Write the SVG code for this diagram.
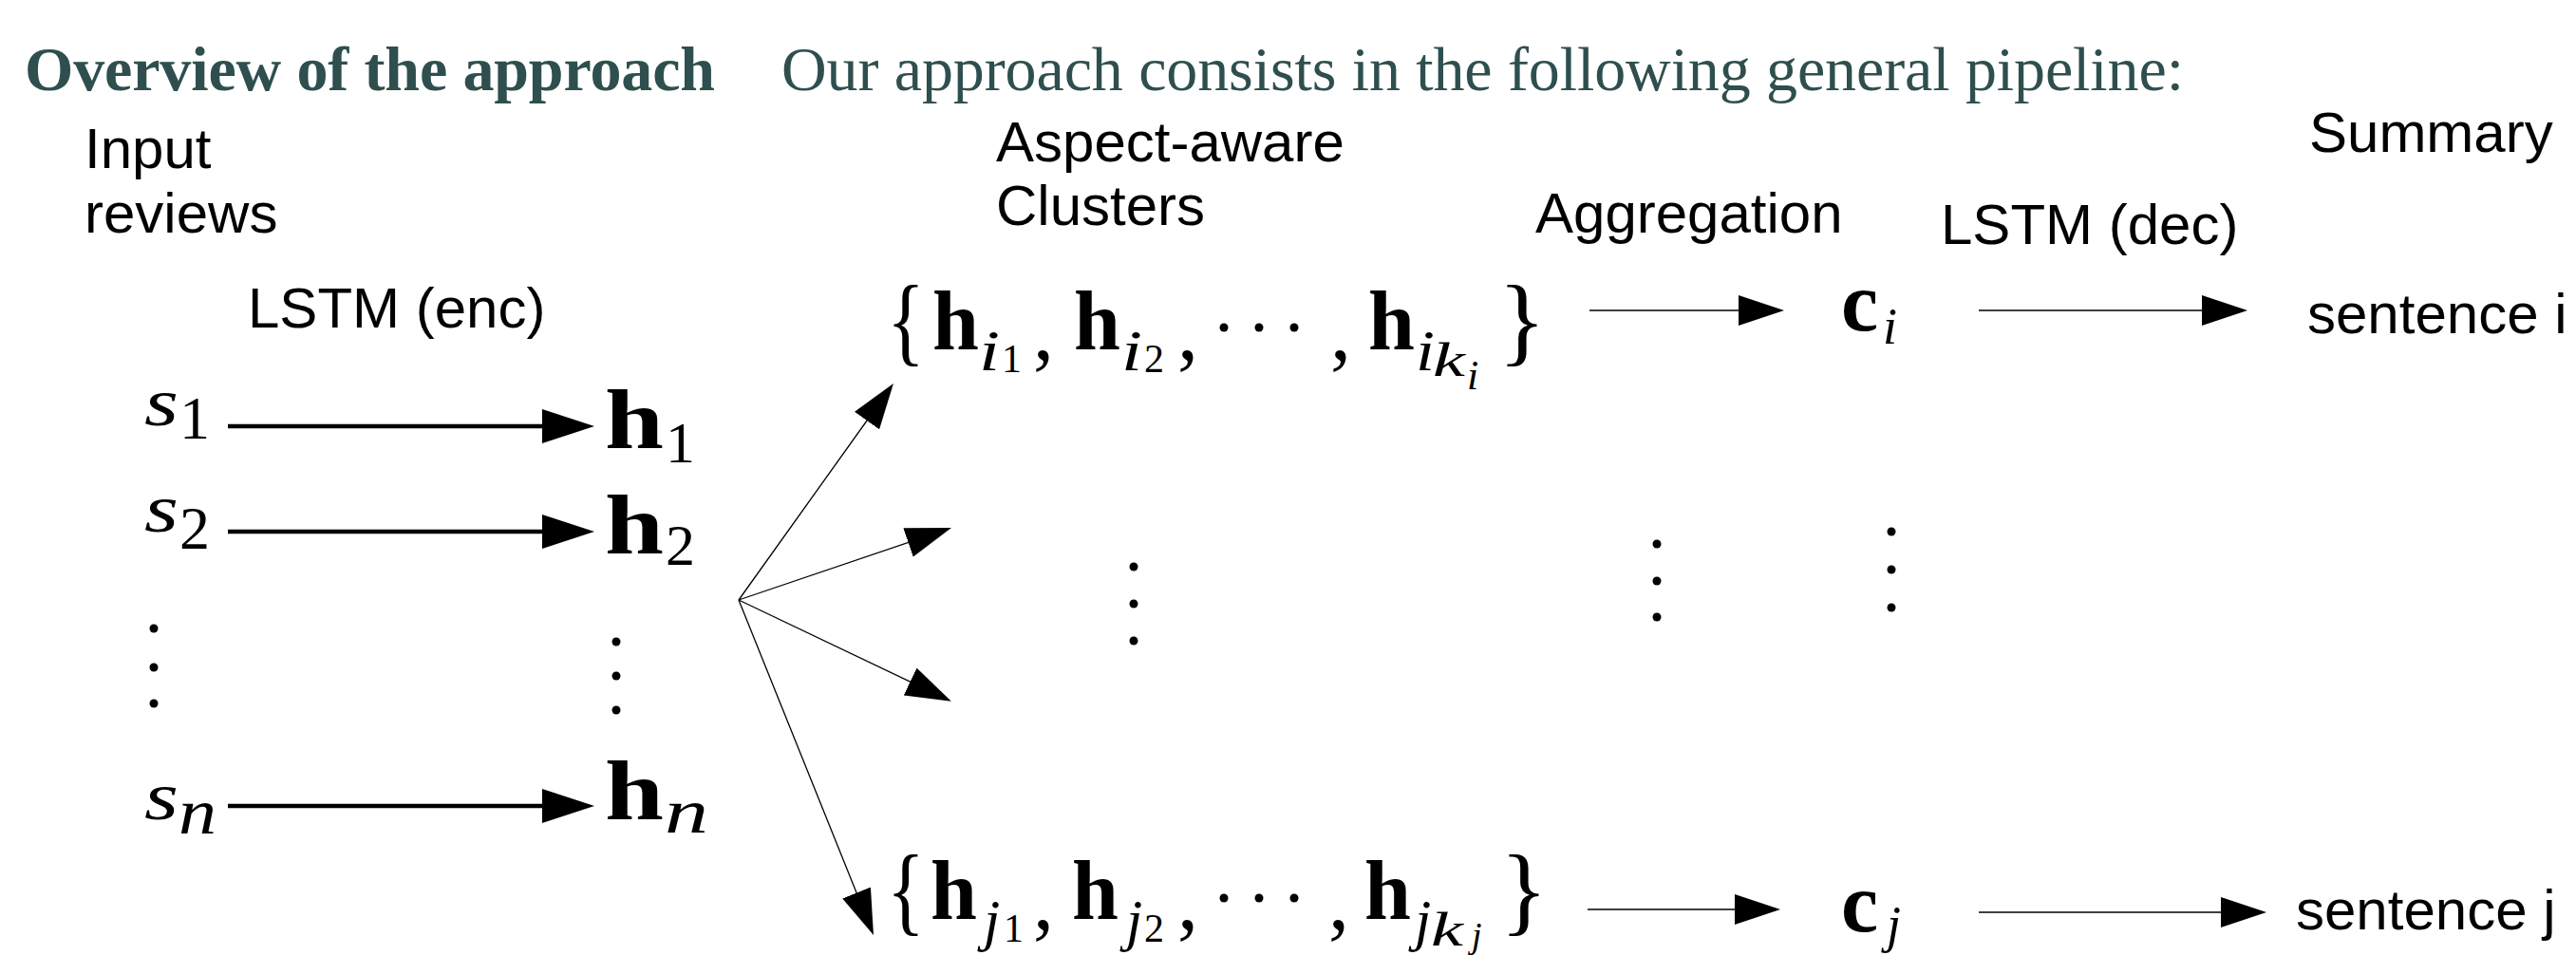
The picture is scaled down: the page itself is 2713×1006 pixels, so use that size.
<svg xmlns="http://www.w3.org/2000/svg" width="2713" height="1006" viewBox="0 0 2713 1006">
<style>
.ttl{font-family:"Liberation Serif",serif;font-size:66px;fill:#2F4F4F}
.lbl{font-family:"Liberation Sans",Arial,sans-serif;font-size:60px;fill:#000}
.mb{font-family:"Liberation Serif",serif;font-weight:bold;font-size:88px;fill:#000}
.mi{font-family:"Liberation Serif",serif;font-style:italic;fill:#000}
.rm{font-family:"Liberation Serif",serif;fill:#000}
.thick{stroke:#000;stroke-width:4.5;fill:none;marker-end:url(#headL)}
.thin{stroke:#000;stroke-width:1.3;fill:none;marker-end:url(#headS)}
.dot{fill:#000}
</style>
<defs>
<marker id="headL" viewBox="0 0 55 36" refX="45" refY="18" markerWidth="55" markerHeight="36" markerUnits="userSpaceOnUse" orient="auto"><path d="M0,0 L55,18 L0,36 z" fill="#000"/></marker>
<marker id="headS" viewBox="0 0 48 32" refX="40" refY="16" markerWidth="48" markerHeight="32" markerUnits="userSpaceOnUse" orient="auto"><path d="M0,0 L48,16 L0,32 z" fill="#000"/></marker>
</defs>
<rect width="2713" height="1006" fill="#fff"/>

<g id="title">
<text class="ttl" x="26" y="95" font-weight="bold" textLength="727">Overview of the approach</text>
<text class="ttl" x="823" y="95" textLength="1477">Our approach consists in the following general pipeline:</text>
</g>

<g id="headers">
<text class="lbl" x="89" y="177">Input</text>
<text class="lbl" x="89" y="245">reviews</text>
<text class="lbl" x="261" y="345">LSTM (enc)</text>
<text class="lbl" x="1049" y="170">Aspect-aware</text>
<text class="lbl" x="1049" y="237">Clusters</text>
<text class="lbl" x="1617" y="245">Aggregation</text>
<text class="lbl" x="2044" y="257">LSTM (dec)</text>
<text class="lbl" x="2432" y="160">Summary</text>
</g>

<g id="s1"><text class="mi" x="152" y="448" font-size="72" textLength="36" lengthAdjust="spacingAndGlyphs">s</text><text class="rm" x="189" y="462" font-size="64">1</text></g>
<g id="s2"><text class="mi" x="152" y="560" font-size="72" textLength="36" lengthAdjust="spacingAndGlyphs">s</text><text class="rm" x="189" y="578" font-size="64">2</text></g>
<g id="sn"><text class="mi" x="152" y="863" font-size="72" textLength="36" lengthAdjust="spacingAndGlyphs">s</text><text class="mi" x="188" y="878" font-size="68" textLength="40" lengthAdjust="spacingAndGlyphs">n</text></g>
<g id="sdots"><circle class="dot" cx="162" cy="662" r="4.5"/><circle class="dot" cx="162" cy="703" r="4.5"/><circle class="dot" cx="162" cy="741" r="4.5"/></g>

<g id="h1"><text class="mb" x="637" y="472" textLength="62" lengthAdjust="spacingAndGlyphs">h</text><text class="rm" x="701" y="487" font-size="62">1</text></g>
<g id="h2"><text class="mb" x="637" y="583" textLength="62" lengthAdjust="spacingAndGlyphs">h</text><text class="rm" x="701" y="595" font-size="62">2</text></g>
<g id="hn"><text class="mb" x="637" y="863" textLength="62" lengthAdjust="spacingAndGlyphs">h</text><text class="mi" x="700" y="877" font-size="66" textLength="46" lengthAdjust="spacingAndGlyphs">n</text></g>
<g id="hdots"><circle class="dot" cx="649" cy="676" r="4.5"/><circle class="dot" cx="649" cy="712" r="4.5"/><circle class="dot" cx="649" cy="748" r="4.5"/></g>

<g id="cluster_i">
<text class="rm" x="934" y="372" font-size="104" textLength="40" lengthAdjust="spacingAndGlyphs">{</text>
<text class="mb" x="982" y="368">h</text>
<text class="mi" x="1031" y="390" font-size="62" textLength="22" lengthAdjust="spacingAndGlyphs">i</text>
<text class="rm" x="1055" y="392" font-size="42">1</text>
<text class="rm" x="1088" y="378" font-size="88">,</text>
<text class="mb" x="1131" y="368">h</text>
<text class="mi" x="1181" y="390" font-size="62" textLength="22" lengthAdjust="spacingAndGlyphs">i</text>
<text class="rm" x="1205" y="392" font-size="42">2</text>
<text class="rm" x="1240" y="378" font-size="88">,</text>
<circle class="dot" cx="1289" cy="345" r="4.5"/><circle class="dot" cx="1326" cy="345" r="4.5"/><circle class="dot" cx="1363" cy="345" r="4.5"/>
<text class="rm" x="1401" y="378" font-size="88">,</text>
<text class="mb" x="1441" y="368">h</text>
<text class="mi" x="1491" y="390" font-size="62" textLength="20" lengthAdjust="spacingAndGlyphs">i</text>
<text class="mi" x="1509" y="396" font-size="50" textLength="34" lengthAdjust="spacingAndGlyphs">k</text>
<text class="mi" x="1545" y="410" font-size="44">i</text>
<text class="rm" x="1578" y="372" font-size="104">}</text>
</g>

<g id="cluster_dots"><circle class="dot" cx="1194" cy="597" r="4.5"/><circle class="dot" cx="1194" cy="636" r="4.5"/><circle class="dot" cx="1194" cy="675" r="4.5"/></g>

<g id="cluster_j">
<text class="rm" x="934" y="972" font-size="104" textLength="40" lengthAdjust="spacingAndGlyphs">{</text>
<text class="mb" x="980" y="968">h</text>
<text class="mi" x="1036" y="990" font-size="62">j</text>
<text class="rm" x="1057" y="992" font-size="42">1</text>
<text class="rm" x="1088" y="978" font-size="88">,</text>
<text class="mb" x="1129" y="968">h</text>
<text class="mi" x="1186" y="990" font-size="62">j</text>
<text class="rm" x="1205" y="992" font-size="42">2</text>
<text class="rm" x="1240" y="978" font-size="88">,</text>
<circle class="dot" cx="1289" cy="946" r="4.5"/><circle class="dot" cx="1326" cy="946" r="4.5"/><circle class="dot" cx="1363" cy="946" r="4.5"/>
<text class="rm" x="1399" y="978" font-size="88">,</text>
<text class="mb" x="1437" y="968">h</text>
<text class="mi" x="1490" y="990" font-size="62">j</text>
<text class="mi" x="1507" y="996" font-size="50" textLength="34" lengthAdjust="spacingAndGlyphs">k</text>
<text class="mi" x="1550" y="998" font-size="38">j</text>
<text class="rm" x="1580" y="972" font-size="104">}</text>
</g>

<g id="agg_dots"><circle class="dot" cx="1745" cy="573" r="4.5"/><circle class="dot" cx="1745" cy="612" r="4.5"/><circle class="dot" cx="1745" cy="650" r="4.5"/></g>

<g id="c_i"><text class="mb" x="1939" y="348">c</text><text class="mi" x="1983" y="362" font-size="54">i</text></g>
<g id="c_j"><text class="mb" x="1939" y="981">c</text><text class="mi" x="1987" y="992" font-size="54">j</text></g>
<g id="c_dots"><circle class="dot" cx="1992" cy="560" r="4.5"/><circle class="dot" cx="1992" cy="600" r="4.5"/><circle class="dot" cx="1992" cy="640" r="4.5"/></g>

<g id="sentence_i"><text class="lbl" x="2430" y="351">sentence i</text></g>
<g id="sentence_j"><text class="lbl" x="2418" y="979">sentence j</text></g>

<g id="connectors">
<line class="thick" x1="240" y1="449" x2="616" y2="449"/>
<line class="thick" x1="240" y1="560" x2="616" y2="560"/>
<line class="thick" x1="240" y1="849" x2="616" y2="849"/>
<line class="thin" x1="778" y1="632" x2="936.3" y2="410.5"/>
<line class="thin" x1="778" y1="632" x2="994.4" y2="558.6"/>
<line class="thin" x1="778" y1="632" x2="994.7" y2="735.3"/>
<line class="thin" x1="778" y1="632" x2="917" y2="977.6"/>
<line class="thin" x1="1674" y1="327" x2="1871" y2="327"/>
<line class="thin" x1="1672" y1="958" x2="1867" y2="958"/>
<line class="thin" x1="2084" y1="327" x2="2359" y2="327"/>
<line class="thin" x1="2084" y1="961" x2="2379" y2="961"/>
</g>
</svg>
